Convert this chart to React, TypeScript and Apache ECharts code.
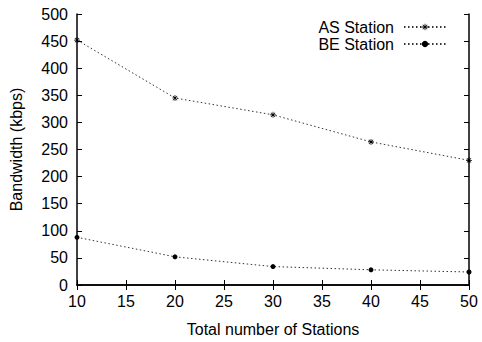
import React, { useEffect, useRef } from "react";
import * as echarts from "echarts";

const stations = [10, 20, 30, 40, 50];
const asStation = [452, 345, 314, 264, 230];
const beStation = [88, 52, 34, 28, 24];

const FONT = "Liberation Sans";

const ASTERISK =
  "path://M-0.6,-5L0.6,-5L0.6,5L-0.6,5Z" +
  "M-5,-0.6L5,-0.6L5,0.6L-5,0.6Z" +
  "M-3.96,-3.11L-3.11,-3.96L3.96,3.11L3.11,3.96Z" +
  "M3.11,-3.96L3.96,-3.11L-3.11,3.96L-3.96,3.11Z";

export default function App() {
  const ref = useRef<HTMLDivElement>(null);
  useEffect(() => {
    const chart = echarts.init(ref.current!, null, { renderer: "svg" });
    const axisCommon = {
      axisLine: { lineStyle: { color: "#000", width: 1.5 } },
      axisTick: { inside: true, length: 5, lineStyle: { color: "#000", width: 1 } },
      splitLine: { show: false },
    };
    chart.setOption({
      animation: false,
      textStyle: { fontFamily: FONT },
      grid: { left: 77, right: 13, top: 14, bottom: 52 },
      legend: {
        orient: "vertical",
        right: 30,
        top: 14,
        align: "right",
        itemWidth: 42,
        itemHeight: 8,
        itemGap: 1,
        textStyle: { fontFamily: FONT, fontSize: 16, color: "#000", padding: [0, 5, 0, 0] },
        data: ["AS Station", "BE Station"],
      },
      xAxis: [
        {
          type: "value",
          min: 10,
          max: 50,
          interval: 5,
          name: "Total number of Stations",
          nameLocation: "middle",
          nameGap: 36,
          nameTextStyle: { fontFamily: FONT, fontSize: 16, color: "#000" },
          axisLabel: { fontFamily: FONT, fontSize: 16, color: "#000", margin: 8 },
          ...axisCommon,
        },
        {
          type: "value",
          position: "top",
          min: 10,
          max: 50,
          interval: 5,
          axisLabel: { show: false },
          ...axisCommon,
        },
      ],
      yAxis: [
        {
          type: "value",
          min: 0,
          max: 500,
          interval: 50,
          name: "Bandwidth (kbps)",
          nameLocation: "middle",
          nameGap: 53,
          nameTextStyle: { fontFamily: FONT, fontSize: 16, color: "#000" },
          axisLabel: { fontFamily: FONT, fontSize: 16, color: "#000", margin: 9 },
          ...axisCommon,
        },
        {
          type: "value",
          position: "right",
          min: 0,
          max: 500,
          interval: 50,
          axisLabel: { show: false },
          ...axisCommon,
        },
      ],
      series: [
        {
          name: "AS Station",
          type: "line",
          data: stations.map((s, i) => [s, asStation[i]]),
          symbol: ASTERISK,
          symbolSize: 6,
          itemStyle: { color: "#000" },
          lineStyle: { color: "#333", width: 1, type: [1.5, 2.5] },
        },
        {
          name: "BE Station",
          type: "line",
          data: stations.map((s, i) => [s, beStation[i]]),
          symbol: "circle",
          symbolSize: 5,
          itemStyle: { color: "#000" },
          lineStyle: { color: "#333", width: 1, type: [1.5, 2.5] },
        },
      ],
    });
    return () => chart.dispose();
  }, []);
  return (
    <div
      ref={ref}
      style={{ position: "absolute", left: 0, top: 0, width: 482, height: 342 }}
    />
  );
}
